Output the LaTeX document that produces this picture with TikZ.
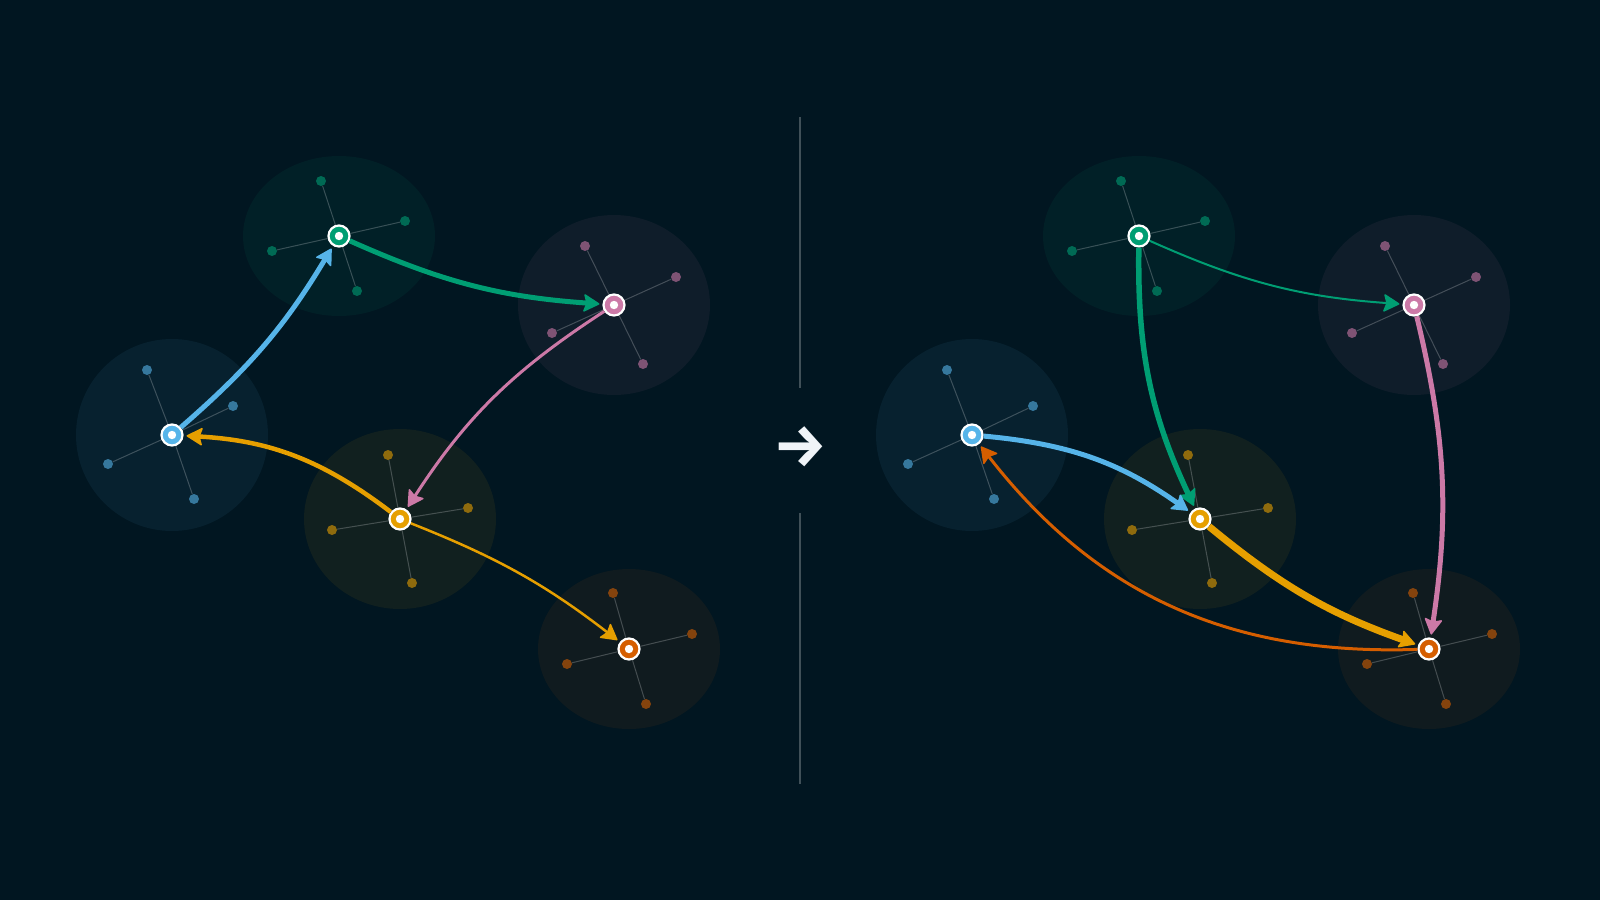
\documentclass[tikz,border=0pt]{standalone}
\usepackage{fontspec}
\newfontfamily\arrowfont{Fira Sans}
\usetikzlibrary{arrows.meta}
\definecolor{bg}{HTML}{011621}
\definecolor{cb}{HTML}{56B4E9}
\definecolor{cg}{HTML}{009E73}
\definecolor{cp}{HTML}{CC79A7}
\definecolor{cy}{HTML}{E69F00}
\definecolor{co}{HTML}{D55E00}
\definecolor{glyph}{HTML}{F0F4F8}
\begin{document}
\begin{tikzpicture}[
    x=1pt, y=-1pt,
  hub/.style={circle, fill=#1, draw=white, line width=2.2pt, minimum size=21pt, inner sep=0pt,
    path picture={\fill[white] (path picture bounding box.center) circle (4.2pt);}},
  sat/.style={circle, fill=#1!62!bg, minimum size=10pt, inner sep=0pt},
  halo/.style={fill=#1!7!bg},
  spoke/.style={draw=white, draw opacity=0.22, line width=1pt},
  link/.style={line width=#1, shorten >=3pt,
    -{Stealth[length=17pt, width=19pt, inset=3pt, line width=1.5pt, round]}},
  split/.style={draw=white, draw opacity=0.25, line width=1.2pt}
]
\useasboundingbox[fill=bg] (0,0) rectangle (1600,900);

% --- clusters, drawn once per panel (L before, R after) ---
\foreach \s/\k in {0/L, 800/R}{
  \begin{scope}[shift={(\s,0)}]
    \fill[halo=cb] (172,435) ellipse [x radius=96, y radius=96];
    \fill[halo=cg] (339,236) ellipse [x radius=96, y radius=80];
    \fill[halo=cp] (614,305) ellipse [x radius=96, y radius=90];
    \fill[halo=cy] (400,519) ellipse [x radius=96, y radius=90];
    \fill[halo=co] (629,649) ellipse [x radius=91, y radius=80];
    \node[hub=cb] (b\k) at (172,435) {};
    \node[hub=cg] (g\k) at (339,236) {};
    \node[hub=cp] (p\k) at (614,305) {};
    \node[hub=cy] (y\k) at (400,519) {};
    \node[hub=co] (o\k) at (629,649) {};
    \foreach \h/\c/\px/\py [count=\i] in {
        b/cb/147/370, b/cb/233/406, b/cb/108/464, b/cb/194/499,
        g/cg/321/181, g/cg/405/221, g/cg/272/251, g/cg/357/291,
        p/cp/585/246, p/cp/676/277, p/cp/552/333, p/cp/643/364,
        y/cy/388/455, y/cy/468/508, y/cy/332/530, y/cy/412/583,
        o/co/613/593, o/co/692/634, o/co/567/664, o/co/646/704}{
      \node[sat=\c] (s\k\i) at (\px,\py) {};
      \draw[spoke] (\h\k) -- (s\k\i);
    }
  \end{scope}
}

% --- divider ---
\draw[split] (800,117) -- (800,388);
\draw[split] (800,513) -- (800,784);
\node[text=glyph, font=\arrowfont\bfseries\fontsize{60}{60}\selectfont] (turn) at (800,447) {→};

% --- left panel links ---
\draw[link=5pt, cb] (bL) to[bend right=9] (gL);
\draw[link=5pt, cg] (gL) to[bend right=10] (pL);
\draw[link=3pt, cp] (pL) to[bend right=12] (yL);
\draw[link=4.5pt, cy] (yL) to[bend right=17] (bL);
\draw[link=2.5pt, cy] (yL) to[bend left=8] (oL);

% --- right panel links ---
\draw[link=2pt, cg] (gR) to[bend right=10] (pR);
\draw[link=5.5pt, cg] (gR) to[bend right=13] (yR);
\draw[link=5pt, cb] (bR) to[bend left=15] (yR);
\draw[link=7pt, cy] (yR) to[bend right=10] (oR);
\draw[link=5pt, cp] (pR) to[bend left=11] (oR);
\draw[link=3pt, co] (oR) to[bend left=27] (bR);
\end{tikzpicture}
\end{document}
